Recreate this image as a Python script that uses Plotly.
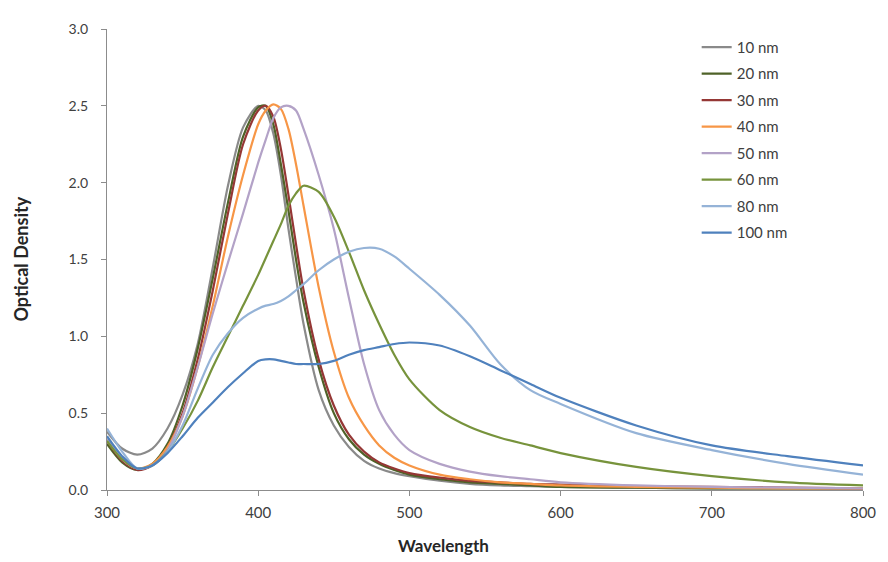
import plotly.graph_objects as go

wavelength = [300, 310, 320, 330, 340, 350, 360, 370, 380, 390, 400, 405, 410, 415, 420, 425,
              430, 440, 450, 460, 470, 480, 490, 500, 520, 540, 560, 580, 600, 650, 700, 750, 800]

od_10nm = [0.38, 0.27, 0.23, 0.27, 0.40, 0.62, 0.95, 1.45, 1.98, 2.36, 2.50, 2.47, 2.32, 2.05, 1.70, 1.38,
           1.08, 0.65, 0.42, 0.28, 0.19, 0.14, 0.11, 0.09, 0.06, 0.04, 0.03, 0.025, 0.02, 0.015, 0.01, 0.01, 0.01]
od_20nm = [0.30, 0.18, 0.13, 0.17, 0.30, 0.55, 0.92, 1.38, 1.87, 2.30, 2.49, 2.50, 2.38, 2.12, 1.82, 1.50,
           1.22, 0.80, 0.50, 0.33, 0.23, 0.17, 0.13, 0.10, 0.07, 0.05, 0.04, 0.03, 0.02, 0.015, 0.01, 0.01, 0.01]
od_30nm = [0.32, 0.19, 0.13, 0.16, 0.28, 0.50, 0.85, 1.30, 1.80, 2.25, 2.47, 2.50, 2.43, 2.22, 1.92, 1.60,
           1.30, 0.85, 0.55, 0.36, 0.25, 0.18, 0.14, 0.11, 0.08, 0.06, 0.05, 0.04, 0.035, 0.025, 0.02, 0.015, 0.01]
od_40nm = [0.33, 0.20, 0.14, 0.17, 0.28, 0.48, 0.80, 1.20, 1.65, 2.05, 2.38, 2.47, 2.51, 2.48, 2.35, 2.12,
           1.85, 1.32, 0.90, 0.60, 0.42, 0.29, 0.21, 0.16, 0.10, 0.07, 0.05, 0.04, 0.03, 0.02, 0.015, 0.01, 0.01]
od_50nm = [0.33, 0.20, 0.14, 0.16, 0.26, 0.48, 0.80, 1.15, 1.48, 1.80, 2.13, 2.28, 2.42, 2.49, 2.50, 2.47,
           2.35, 2.05, 1.70, 1.25, 0.82, 0.52, 0.36, 0.26, 0.17, 0.12, 0.09, 0.07, 0.05, 0.03, 0.02, 0.015, 0.01]
od_60nm = [0.32, 0.20, 0.14, 0.16, 0.25, 0.40, 0.58, 0.80, 1.00, 1.20, 1.40, 1.51, 1.62, 1.73, 1.85, 1.93,
           1.98, 1.94, 1.78, 1.55, 1.30, 1.08, 0.88, 0.72, 0.52, 0.41, 0.34, 0.29, 0.24, 0.15, 0.09, 0.05, 0.03]
od_80nm = [0.40, 0.25, 0.14, 0.16, 0.25, 0.42, 0.66, 0.88, 1.02, 1.12, 1.18, 1.20, 1.21, 1.23, 1.26, 1.30,
           1.34, 1.43, 1.50, 1.55, 1.575, 1.57, 1.52, 1.44, 1.27, 1.07, 0.82, 0.65, 0.56, 0.37, 0.26, 0.17, 0.10]
od_100nm = [0.35, 0.22, 0.14, 0.16, 0.24, 0.35, 0.47, 0.57, 0.67, 0.76, 0.84, 0.85, 0.85, 0.84, 0.83, 0.82,
            0.82, 0.82, 0.84, 0.88, 0.91, 0.93, 0.95, 0.96, 0.94, 0.87, 0.78, 0.69, 0.60, 0.42, 0.29, 0.22, 0.16]

series_names = ["10 nm", "20 nm", "30 nm", "40 nm", "50 nm", "60 nm", "80 nm", "100 nm"]
series_values = [od_10nm, od_20nm, od_30nm, od_40nm, od_50nm, od_60nm, od_80nm, od_100nm]
series_colors = ["#8a8a8a", "#4f6228", "#953735", "#f79646", "#b3a2c7", "#77933c", "#95b3d7", "#4f81bd"]

x_ticks = [300, 400, 500, 600, 700, 800]
y_ticks = [0.0, 0.5, 1.0, 1.5, 2.0, 2.5, 3.0]

fig = go.Figure()
for name, vals, col in zip(series_names, series_values, series_colors):
    fig.add_trace(go.Scatter(
        x=wavelength, y=vals, name=name, mode="lines",
        line=dict(color=col, width=2.2, shape="spline", smoothing=0.8),
        legendgroup=name,
    ))

axis_col = "#8c8c8c"
# page body has an 8px margin, so the figure is sized/offset to compensate
fig.update_layout(
    width=880, height=554,
    margin=dict(l=99, r=25, t=12, b=72),
    paper_bgcolor="white", plot_bgcolor="white",
    font=dict(family="Lato, Open Sans, sans-serif", size=14, color="#404040"),
    showlegend=True,
    legend=dict(
        x=0.78, y=0.996, xanchor="left", yanchor="top",
        bgcolor="rgba(0,0,0,0)", font=dict(size=15, color="#404040"),
        tracegroupgap=4, traceorder="grouped",
    ),
    xaxis=dict(
        range=[300, 800], tickvals=x_ticks, ticktext=[str(v) for v in x_ticks],
        showgrid=False, zeroline=False, showline=True, linecolor=axis_col, linewidth=1.2,
        ticks="outside", ticklen=5, tickcolor=axis_col, tickfont=dict(size=15),
        ticklabelstandoff=4,
    ),
    yaxis=dict(
        range=[0, 3], tickvals=y_ticks, ticktext=[f"{v:.1f}" for v in y_ticks],
        showgrid=False, zeroline=False, showline=True, linecolor=axis_col, linewidth=1.2,
        ticks="outside", ticklen=5, tickcolor=axis_col, tickfont=dict(size=14),
        ticklabelstandoff=10,
    ),
    annotations=[
        dict(text="<b>Wavelength</b>", xref="paper", yref="paper", x=0.445, y=-0.12,
             xanchor="center", yanchor="middle", showarrow=False,
             font=dict(size=17, color="#262626")),
        dict(text="<b>Optical Density</b>", xref="paper", yref="paper", x=-0.115, y=0.5,
             xanchor="center", yanchor="middle", textangle=-90, showarrow=False,
             font=dict(size=18, color="#262626")),
    ],
)

fig.write_html("out.html")
